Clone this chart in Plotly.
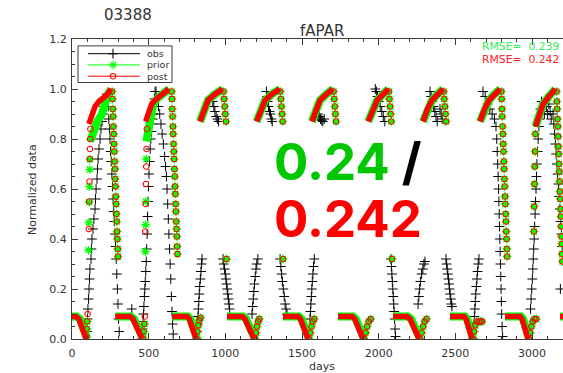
import plotly.graph_objects as go

# ---------------- data (days, normalized fAPAR) ----------------
# observations (black crosses), one list per streak
obs_k0_rise_d = [98,101,104,108,111,114,117,124,127,130,137,143,150,153,157,163,166,170,176,183,189,196,202,209,222,228]
obs_k0_rise_v = [0.03,0.08,0.12,0.16,0.2,0.24,0.28,0.32,0.36,0.4,0.44,0.48,0.52,0.56,0.6,0.64,0.68,0.72,0.76,0.8,0.84,0.87,0.9,0.93,0.96,0.98]
obs_k0_fall_d = [232,236,240,244,248,252,256,260,264,268,272,276,280,284,288,292,296,300,304,308,390]
obs_k0_fall_v = [0.97,0.93,0.88,0.84,0.8,0.75,0.71,0.66,0.61,0.56,0.51,0.47,0.42,0.37,0.32,0.26,0.2,0.14,0.08,0.03,0.12]
obs_k1_rise_d = [457,460,463,466,469,472,475,478,481,484,487,490,493,496,499,502,506,510,514,518,522,526,530,534,538,542]
obs_k1_rise_v = [0.0,0.04,0.07,0.1,0.13,0.17,0.2,0.23,0.27,0.31,0.36,0.42,0.49,0.55,0.61,0.66,0.71,0.76,0.8,0.83,0.86,0.88,0.9,0.93,0.96,0.99]
obs_k1_fall_d = [548,556,564,572,580,588,596,604,610,616,620,624,628,632,636,640,644,648,652,656,660]
obs_k1_fall_v = [0.99,0.96,0.93,0.9,0.86,0.82,0.78,0.73,0.69,0.65,0.6,0.54,0.48,0.42,0.36,0.3,0.24,0.17,0.11,0.06,0.02]
obs_k2_d = [815,817,819,822,824,827,830,833,837,841,845,848, 912,918,925,932,940,948,956,
            985,990,995,1000,1004,1008,1012,1016,1020,1024,1028]
obs_k2_v = [0.0,0.03,0.06,0.09,0.12,0.15,0.18,0.21,0.24,0.27,0.3,0.32, 0.97,0.95,0.93,0.91,0.89,0.88,0.87,
            0.32,0.3,0.28,0.26,0.24,0.22,0.2,0.18,0.16,0.14,0.12]
obs_k3_d = [1174,1178,1182,1186,1190,1195,1200,1205,1212, 1268,1272,1276,1282,1288,1294,1300,1306,
            1357,1362,1367,1372,1378,1384,1390,1396,1402]
obs_k3_v = [0.1,0.13,0.16,0.19,0.22,0.25,0.28,0.3,0.32, 0.99,0.97,0.95,0.93,0.91,0.9,0.88,0.87,
            0.32,0.29,0.26,0.23,0.2,0.17,0.14,0.12,0.1]
obs_k4_d = [1552,1555,1558,1561,1564,1567,1571,1575,1580, 1605,1612,1620,1628,1636,1645]
obs_k4_v = [0.08,0.11,0.14,0.17,0.2,0.23,0.26,0.29,0.32, 0.9,0.89,0.88,0.875,0.87,0.88]
obs_k5_d = [1978,1985,1992,2000,2010,2020,2030,2040, 2080,2083,2086,2089,2092,2095,2098,2101,2104,2107,2110]
obs_k5_v = [1.0,0.99,0.97,0.95,0.93,0.91,0.89,0.87, 0.32,0.29,0.26,0.23,0.2,0.17,0.14,0.11,0.08,0.04,0.01]
obs_k6_d = [2257,2262,2267,2272,2280,2288,2295,2302, 2335,2342,2350,2358,2366,2374,2382,2400,2408,2414,
            2439,2443,2447,2451,2455,2459,2462,2466,2470,2474,2478]
obs_k6_v = [0.14,0.17,0.2,0.23,0.26,0.28,0.3,0.31, 0.99,0.97,0.95,0.93,0.91,0.89,0.87,0.92,0.9,0.88,
            0.32,0.3,0.28,0.26,0.24,0.22,0.2,0.18,0.16,0.14,0.13]
obs_k7_d = [2615,2618,2621,2624,2627,2630,2633,2637,2641,2645,2649,2654,
            2680,2695,2710,2725,2740,2755,2765,2770,2773,2776,2779,2782,2784,2786,2788,2790,2792,2794,2796,2798,2800,2802,2805,2808]
obs_k7_v = [0.0,0.03,0.06,0.09,0.12,0.15,0.18,0.21,0.24,0.27,0.3,0.32,
            0.99,0.97,0.94,0.92,0.9,0.88,0.85,0.8,0.75,0.7,0.65,0.6,0.55,0.5,0.45,0.4,0.35,0.3,0.25,0.2,0.15,0.1,0.05,0.01]
obs_k8_d = [2990,2994,2998,3002,3005,3008,3011,3014,3017,3020,3023,3026,3029,3032,3036,3040,3045,3050,
            3055,3062,3070,3080,3088,3095,3102,3110,3118,3125,
            3137,3142,3147,3152,3157,3162,3167,3172,3177,3182,3187,3192,3196,3185]
obs_k8_v = [0.12,0.16,0.2,0.24,0.28,0.32,0.36,0.4,0.45,0.5,0.55,0.6,0.65,0.7,0.75,0.8,0.85,0.88,
            0.92,0.95,0.93,0.9,0.96,0.93,0.9,0.94,0.91,0.88,
            0.9,0.86,0.82,0.78,0.74,0.7,0.66,0.62,0.57,0.52,0.47,0.42,0.37,0.2]

# post (red) dense segments; None separates segments
post_band_d = [0,26,45,65,80,92,None, 110,130,150,175,200,225,255,None,
               282,378,398,418,438,457,None, 480,500,520,550,590,632,None,
               652,750,765,780,795,809,None, 835,862,887,935,982,None,
               1011,1109,1128,1148,1168,1187,None, 1204,1232,1259,1305,1355,None,
               1376,1474,1490,1507,1523,1539,None, 1565,1592,1617,1660,1702,None,
               1735,1826,1844,1862,1880,1898,None, 1932,1962,1990,2030,2063,None,
               2094,2185,2205,2224,2244,2263,None, 2289,2318,2348,2385,2420,None,
               2465,2557,2570,2583,2596,2609,None, 2661,2690,2720,2755,2792,None,
               2824,2922,2935,2948,2961,2974,None, 3022,3045,3072,3110,3152,None,
               3183,3230]
post_band_v = [0.09,0.09,0.08,0.05,0.015,0.0,None, 0.86,0.9,0.93,0.95,0.96,0.975,1.0,None,
               0.09,0.09,0.08,0.05,0.015,0.0,None, 0.87,0.91,0.94,0.96,0.98,1.0,None,
               0.09,0.09,0.08,0.05,0.015,0.0,None, 0.87,0.92,0.955,0.98,1.0,None,
               0.09,0.09,0.08,0.05,0.015,0.0,None, 0.87,0.92,0.955,0.98,1.0,None,
               0.09,0.09,0.08,0.05,0.015,0.0,None, 0.87,0.92,0.955,0.98,1.0,None,
               0.09,0.09,0.08,0.05,0.015,0.0,None, 0.87,0.92,0.955,0.98,1.0,None,
               0.09,0.09,0.08,0.05,0.015,0.0,None, 0.87,0.92,0.955,0.98,1.0,None,
               0.09,0.09,0.08,0.05,0.015,0.0,None, 0.87,0.92,0.955,0.98,1.0,None,
               0.09,0.09,0.08,0.05,0.015,0.0,None, 0.85,0.9,0.94,0.97,1.0,None,
               0.09,0.09]

# prior (green) dense segments
prior_band_d = [0,30,52,72,88,100,None, 118,140,165,195,215,235,255,None,
                282,384,405,426,446,465,None, 485,500,515,530,560,600,632,None,
                652,756,772,788,803,817,None, 835,862,887,935,982,None,
                1011,1115,1135,1155,1175,1194,None, 1204,1232,1259,1305,1355,None,
                1376,1480,1497,1514,1530,1546,None, 1565,1592,1617,1660,1702,None,
                1735,1832,1851,1869,1887,1905,None, 1932,1962,1990,2030,2063,None,
                2094,2191,2212,2231,2251,2270,None, 2289,2318,2348,2385,2420,None,
                2465,2563,2577,2590,2603,2616,None, 2661,2690,2720,2755,2792,None,
                2824,2928,2942,2955,2968,2981,None, 3022,3045,3072,3110,3152,None,
                3183,3230]
prior_band_v = [0.09,0.09,0.08,0.05,0.015,0.0,None, 0.79,0.83,0.87,0.9,0.95,0.98,1.0,None,
                0.09,0.09,0.08,0.05,0.015,0.0,None, 0.79,0.84,0.9,0.94,0.965,0.985,1.0,None,
                0.09,0.09,0.08,0.05,0.015,0.0,None, 0.87,0.92,0.955,0.98,1.0,None,
                0.09,0.09,0.08,0.05,0.015,0.0,None, 0.87,0.92,0.955,0.98,1.0,None,
                0.09,0.09,0.08,0.05,0.015,0.0,None, 0.87,0.92,0.955,0.98,1.0,None,
                0.09,0.09,0.08,0.05,0.015,0.0,None, 0.87,0.92,0.955,0.98,1.0,None,
                0.09,0.09,0.08,0.05,0.015,0.0,None, 0.87,0.92,0.955,0.98,1.0,None,
                0.09,0.09,0.08,0.05,0.015,0.0,None, 0.87,0.92,0.955,0.98,1.0,None,
                0.09,0.09,0.08,0.05,0.015,0.0,None, 0.85,0.9,0.94,0.97,1.0,None,
                0.09,0.09]

# sparse early-season rises (first two seasons)
post_rise_d = [93,96,99,102,110,112,114,116,117,118,120, 463,467,471,475,478,480,482,484,486,488]
post_rise_v = [0.01,0.04,0.07,0.1,0.44,0.55,0.63,0.72,0.76,0.8,0.84, 0.0,0.03,0.06,0.09,0.43,0.54,0.62,0.69,0.76,0.84]
prior_rise_d = [95,98,101,108,110,112,114,116,117, 465,469,473,478,480,482,484]
prior_rise_v = [0.01,0.04,0.07,0.355,0.466,0.547,0.61,0.678,0.718, 0.0,0.03,0.06,0.35,0.457,0.55,0.72]

# shared model points (prior and post coincide): decay columns, late rises, isolated points
model_pts_d = [262,264,266,268,270,272,274,276,278,280,282,284,286,288,290,292,294,296,298,300,
               650,652,654,656,658,660,662,664,666,668,670,672,674,676,678,680,682,684,686,688,
               812,818,824,830,838, 988,992,996,1000,1004,1008,
               1193,1200,1207,1214,1222, 1358,1362,1366,1370,1374,1376,
               1546,1554,1562,1570,1580, 1706,1710,1714,1718,1722,
               1905,1915,1925,1935,1948, 2066,2070,2074,2078,2082,2087,
               2270,2280,2290,2300,2312, 2424,2428,2432,2436,2440,
               2615,2622,2630,2640,2652,2664,2674,
               2800,2802,2804,2806,2808,2810,2812,2814,2816,2818,2820,2822,2824,2826,2828,2830,2832,2834,2836,2838,
               2980,2988,2996,3005,3016,3028, 3012,3014,3016,3018,3020,3022,
               3160,3162,3164,3166,3168,3170,3172,3174,3176,3178,3180,3182,3184,3186,3188,3190,3192,3194,3196,3198]
model_pts_v = [0.99,0.96,0.92,0.89,0.85,0.82,0.78,0.75,0.71,0.68,0.64,0.61,0.57,0.54,0.5,0.47,0.43,0.4,0.36,0.33,
               0.99,0.96,0.92,0.89,0.85,0.82,0.78,0.75,0.72,0.68,0.65,0.61,0.58,0.54,0.51,0.47,0.44,0.41,0.37,0.34,
               0.0,0.03,0.055,0.075,0.085, 0.99,0.96,0.93,0.9,0.87,0.32,
               0.0,0.025,0.05,0.07,0.08, 0.99,0.96,0.93,0.9,0.87,0.32,
               0.0,0.025,0.05,0.07,0.08, 0.99,0.96,0.93,0.9,0.87,
               0.0,0.025,0.05,0.07,0.08, 0.99,0.96,0.93,0.9,0.87,0.32,
               0.0,0.025,0.05,0.07,0.08, 0.99,0.96,0.93,0.9,0.87,
               0.0,0.03,0.055,0.07,0.07,0.07,0.07,
               0.99,0.96,0.92,0.89,0.85,0.82,0.78,0.75,0.71,0.68,0.64,0.61,0.57,0.54,0.5,0.47,0.43,0.4,0.36,0.33,
               0.0,0.025,0.05,0.07,0.08,0.08, 0.43,0.53,0.62,0.69,0.75,0.82,
               0.99,0.95,0.92,0.88,0.85,0.81,0.77,0.74,0.7,0.67,0.63,0.59,0.56,0.52,0.49,0.45,0.41,0.38,0.34,0.31]

legend_names = ["obs", "prior", "post"]
rmse_prior, rmse_post = 0.239, 0.242
station = "03388"

# ---------------- styles ----------------
BLACK, GREEN, RED = "#000000", "#00ff00", "#ff0000"
AX = "#3a3a3a"
TXT = "#333333"
FONT = "DejaVu Sans"

fig = go.Figure()

obs_d = obs_k0_rise_d + obs_k0_fall_d + obs_k1_rise_d + obs_k1_fall_d + obs_k2_d + obs_k3_d + obs_k4_d + obs_k5_d + obs_k6_d + obs_k7_d + obs_k8_d
obs_v = obs_k0_rise_v + obs_k0_fall_v + obs_k1_rise_v + obs_k1_fall_v + obs_k2_v + obs_k3_v + obs_k4_v + obs_k5_v + obs_k6_v + obs_k7_v + obs_k8_v

fig.add_trace(go.Scatter(x=obs_d, y=obs_v, mode="markers", showlegend=False,
                         marker=dict(symbol="cross-thin-open", size=7, color=BLACK,
                                     line=dict(color=BLACK, width=1))))
# prior
fig.add_trace(go.Scatter(x=prior_band_d, y=prior_band_v, mode="lines", showlegend=False,
                         line=dict(color=GREEN, width=8)))
fig.add_trace(go.Scatter(x=prior_rise_d + model_pts_d, y=prior_rise_v + model_pts_v, mode="markers", showlegend=False,
                         marker=dict(symbol="asterisk-open", size=7, color=GREEN,
                                     line=dict(color=GREEN, width=1.3))))
# post
fig.add_trace(go.Scatter(x=post_band_d, y=post_band_v, mode="lines", showlegend=False,
                         line=dict(color=RED, width=5.5)))
fig.add_trace(go.Scatter(x=post_rise_d + model_pts_d, y=post_rise_v + model_pts_v, mode="markers", showlegend=False,
                         marker=dict(symbol="circle-open", size=5.5, color=RED,
                                     line=dict(color=RED, width=1.1))))

# ---------------- manual legend (paper-fraction axes) ----------------
leg_x0, leg_x1 = 0.0122, 0.2037
leg_y0, leg_y1 = 0.855, 0.977
row_y = [0.951, 0.9135, 0.876]
sample_x0, sample_x1, sample_mid = 0.0326, 0.1385, 0.0835
leg_text_x = 0.1507
leg_colors = [BLACK, GREEN, RED]
leg_symbols = ["cross-thin-open", "asterisk-open", "circle-open"]
leg_sizes = [7, 7, 5.5]

fig.add_shape(type="rect", xref="paper", yref="paper", x0=leg_x0, x1=leg_x1, y0=leg_y0, y1=leg_y1,
              line=dict(color=AX, width=1), fillcolor="rgba(0,0,0,0)")
for i in range(3):
    fig.add_shape(type="line", xref="paper", yref="paper", x0=sample_x0, x1=sample_x1,
                  y0=row_y[i], y1=row_y[i], line=dict(color=leg_colors[i], width=1))
    fig.add_trace(go.Scatter(x=[sample_mid], y=[row_y[i]], xaxis="x2", yaxis="y2", mode="markers",
                             showlegend=False, cliponaxis=False,
                             marker=dict(symbol=leg_symbols[i], size=leg_sizes[i], color=leg_colors[i],
                                         line=dict(color=leg_colors[i], width=1.1))))
    fig.add_annotation(xref="paper", yref="paper", x=leg_text_x, y=row_y[i], text=legend_names[i],
                       xanchor="left", yanchor="middle", showarrow=False, borderpad=0,
                       font=dict(family=FONT, size=9.5, color=TXT))

# ---------------- text ----------------
fig.add_annotation(xref="paper", yref="paper", x=0.114, y=1.08, text=station, showarrow=False,
                   xanchor="center", yanchor="middle", font=dict(family=FONT, size=15, color=TXT))
fig.add_annotation(xref="paper", yref="paper", x=0.509, y=1.027, text="fAPAR", showarrow=False,
                   xanchor="center", yanchor="middle", font=dict(family=FONT, size=15, color=TXT))
fig.add_annotation(xref="paper", yref="paper", x=-0.0815, y=0.5, text="Normalized data", showarrow=False,
                   textangle=-90, xanchor="center", yanchor="middle", font=dict(family=FONT, size=11, color=TXT))
fig.add_annotation(xref="paper", yref="paper", x=0.509, y=-0.093, text="days", showarrow=False,
                   xanchor="center", yanchor="middle", font=dict(family=FONT, size=11, color=TXT))
fig.add_annotation(xref="paper", yref="paper", x=0.833, y=0.976, text="RMSE=  %.3f" % rmse_prior, showarrow=False,
                   xanchor="left", yanchor="middle", borderpad=0, font=dict(family=FONT, size=10.8, color="#33ee55"))
fig.add_annotation(xref="paper", yref="paper", x=0.833, y=0.932, text="RMSE=  %.3f" % rmse_post, showarrow=False,
                   xanchor="left", yanchor="middle", borderpad=0, font=dict(family=FONT, size=10.8, color="#ff2222"))
fig.add_annotation(xref="paper", yref="paper", x=0.4074, y=0.5917,
                   text="<b><span style='color:#00c800'>%s</span> /</b>" % ("%.2f" % round(rmse_prior, 2)),
                   showarrow=False, xanchor="left", yanchor="middle",
                   font=dict(family="Inter", size=51, color="#000000"))
fig.add_annotation(xref="paper", yref="paper", x=0.4074, y=0.4017, text="<b>%.3f</b>" % rmse_post,
                   showarrow=False, xanchor="left", yanchor="middle",
                   font=dict(family="Inter", size=51, color=RED))

fig.update_layout(
    width=563, height=373,
    margin=dict(l=72, r=0, t=39, b=34),
    paper_bgcolor="white", plot_bgcolor="white",
    showlegend=False,
    xaxis=dict(range=[0, 3202], tick0=0, dtick=500, ticks="inside", ticklen=6, tickcolor=AX, tickwidth=1,
               showline=True, linecolor=AX, linewidth=1, mirror="ticks", showgrid=False, zeroline=False,
               tickfont=dict(family=FONT, size=11, color=TXT), ticklabelstandoff=4,
               minor=dict(dtick=100, tick0=0, ticks="inside", ticklen=3, tickcolor=AX, showgrid=False)),
    yaxis=dict(range=[0, 1.2], tick0=0, dtick=0.2, tickformat=".1f", ticks="inside", ticklen=6, tickcolor=AX,
               tickwidth=1, showline=True, linecolor=AX, linewidth=1, mirror=False, showgrid=False, zeroline=False,
               tickfont=dict(family=FONT, size=11, color=TXT), ticklabelstandoff=2,
               minor=dict(dtick=0.05, tick0=0, ticks="inside", ticklen=3, tickcolor=AX, showgrid=False)),
    xaxis2=dict(overlaying="x", anchor="y2", range=[0, 1], visible=False),
    yaxis2=dict(overlaying="y", anchor="x2", range=[0, 1], visible=False),
)

fig.write_html("out.html")
